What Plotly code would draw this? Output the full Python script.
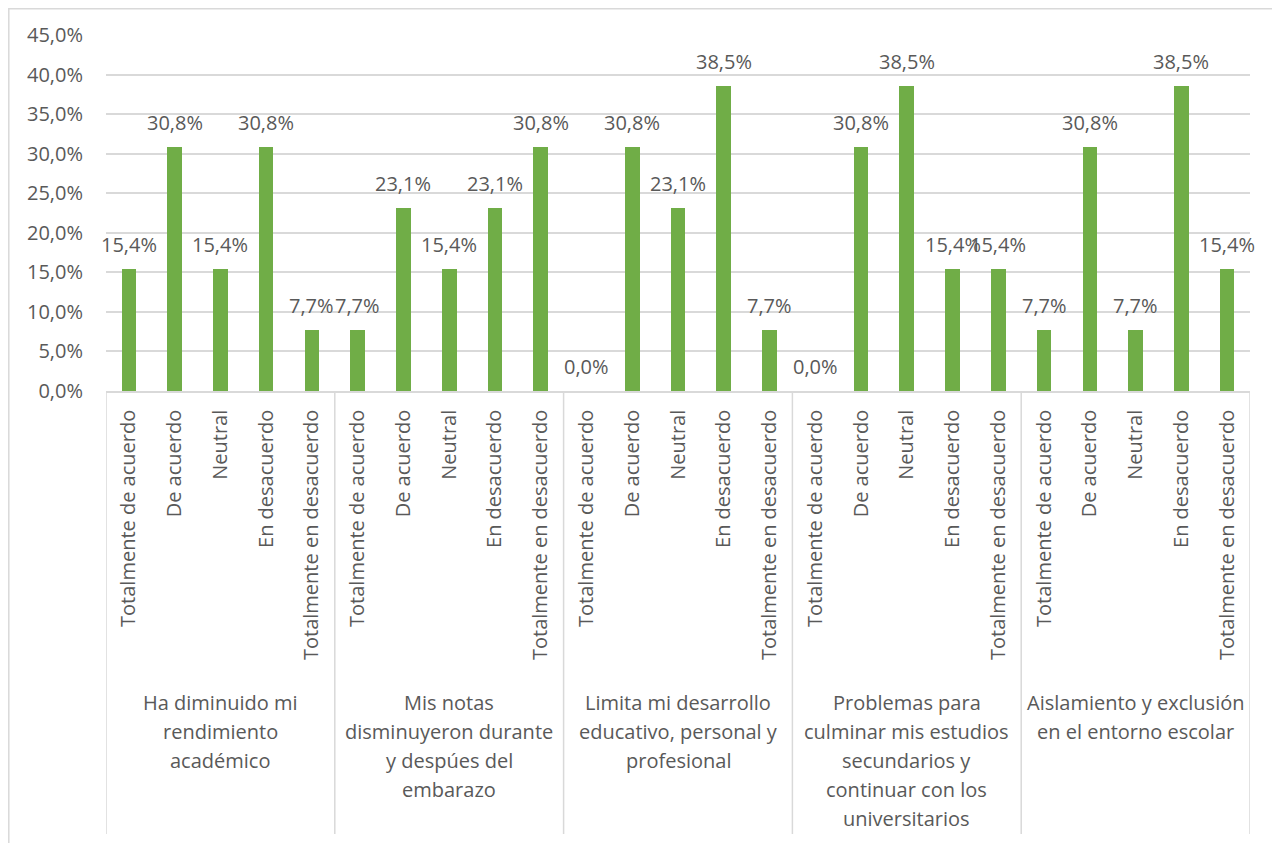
import plotly.graph_objects as go

groups = [
    "Ha diminuido mi<br>rendimiento<br>académico",
    "Mis notas<br>disminuyeron durante<br>y despúes del<br>embarazo",
    "Limita mi desarrollo<br>educativo, personal y<br>profesional",
    "Problemas para<br>culminar mis estudios<br>secundarios y<br>continuar con los<br>universitarios",
    "Aislamiento y exclusión<br>en el entorno escolar",
]
categories = ["Totalmente de acuerdo", "De acuerdo", "Neutral", "En desacuerdo", "Totalmente en desacuerdo"]
values_g1 = [0.154, 0.308, 0.154, 0.308, 0.077]
values_g2 = [0.077, 0.231, 0.154, 0.231, 0.308]
values_g3 = [0.000, 0.308, 0.231, 0.385, 0.077]
values_g4 = [0.000, 0.308, 0.385, 0.154, 0.154]
values_g5 = [0.077, 0.308, 0.077, 0.385, 0.154]
y_ticks = [0, 0.05, 0.10, 0.15, 0.20, 0.25, 0.30, 0.35, 0.40, 0.45]

all_values = values_g1 + values_g2 + values_g3 + values_g4 + values_g5
n_cat = len(categories)
n_grp = len(groups)
xs = list(range(n_cat * n_grp))
tick_text = categories * n_grp

FONT = "Open Sans"
TXT = "#595959"
GRID = "#d9d9d9"
FS = 20
LINE_H = 29

# page body has an 8px margin; figure sized to fit the window
W, H = 1272, 835
L, R, T, B = 98, 30, 27, 452
pw, ph = W - L - R, H - T - B

fig = go.Figure()
fig.add_trace(go.Bar(
    x=xs, y=all_values, marker=dict(color="#70ad47", line=dict(width=0)),
    width=0.32, hoverinfo="skip",
))

annotations = []
for x, v in zip(xs, all_values):
    annotations.append(dict(
        x=x, y=v, xref="x", yref="y", text=f"{v*100:.1f}%".replace(".", ","),
        showarrow=False, yanchor="bottom", yshift=9,
        font=dict(family=FONT, size=FS, color=TXT),
    ))
for g, label in enumerate(groups):
    for i, line in enumerate(label.split("<br>")):
        annotations.append(dict(
            x=g * n_cat + (n_cat - 1) / 2, y=-0.876, xref="x", yref="paper",
            text=line, showarrow=False, yanchor="middle", xanchor="center",
            yshift=-LINE_H * i,
            font=dict(family=FONT, size=FS, color=TXT),
        ))

def px(xp): return (xp - L) / pw
def py(yp): return (H - B - yp) / ph

shapes = []
for g in range(n_grp + 1):
    xb = g * n_cat - 0.5
    shapes.append(dict(type="line", xref="x", yref="paper", x0=xb, x1=xb,
                       y0=0, y1=py(826), line=dict(color=GRID, width=1.5)))
# chart border
shapes.append(dict(type="rect", xref="paper", yref="paper",
                   x0=px(0.8), x1=px(1270), y0=py(0.8), y1=py(850),
                   line=dict(color=GRID, width=1.5), fillcolor="rgba(0,0,0,0)"))

fig.update_layout(
    width=W, height=H, margin=dict(l=L, r=R, t=T, b=B, autoexpand=False),
    paper_bgcolor="white", plot_bgcolor="white",
    separators=",.",
    showlegend=False, bargap=0,
    annotations=annotations, shapes=shapes,
    font=dict(family=FONT, size=FS, color=TXT),
)
fig.update_xaxes(
    range=[-0.5, len(xs) - 0.5], tickmode="array", tickvals=xs, ticktext=tick_text,
    tickangle=-90, showgrid=False, showline=True, linecolor=GRID, linewidth=1.5,
    ticks="", tickfont=dict(family=FONT, size=FS, color=TXT), ticklabelstandoff=9,
    zeroline=False, automargin=False,
)
fig.update_yaxes(
    range=[0, 0.45], tickmode="array", tickvals=y_ticks, tickformat=".1%",
    showgrid=True, gridcolor=GRID, gridwidth=1.5, zeroline=False, showline=False,
    ticks="", tickfont=dict(family=FONT, size=FS, color=TXT), ticklabelstandoff=22,
    automargin=False,
)

fig.write_html("out.html")
